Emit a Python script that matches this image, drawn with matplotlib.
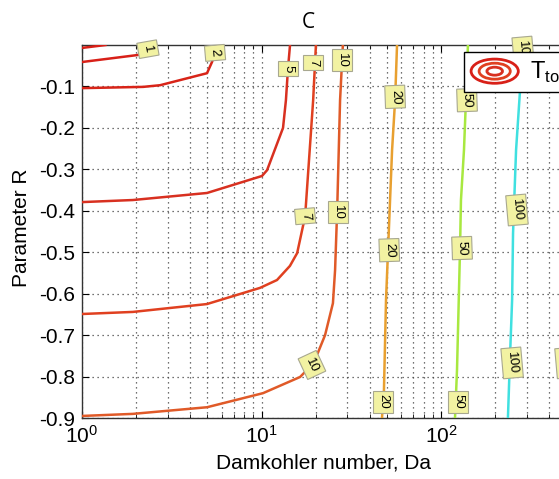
import matplotlib
matplotlib.use("Agg")
import matplotlib.pyplot as plt
from matplotlib.legend_handler import HandlerBase
from matplotlib.patches import Ellipse
from matplotlib.ticker import LogLocator, NullFormatter

plt.rcParams['font.family'] = ['Liberation Sans', 'DejaVu Sans']
plt.rcParams['axes.unicode_minus'] = False
plt.rcParams['mathtext.fontset'] = 'custom'
plt.rcParams['mathtext.rm'] = 'Liberation Sans'

# Isolignes de T_tot (Da, R)
levels = [0.5, 1, 2, 5, 7, 10, 20, 50, 100, 200]
colors = ['#d82018', '#d82018', '#d82418', '#d83020', '#e04020', '#e05a28',
          '#e8a030', '#a8e840', '#40e0e0', '#2080f0']

da_05 = [1.0, 1.35]
r_05 = [-0.007, 0.0]
da_1 = [1.0, 2.05, 2.33, 2.55]
r_1 = [-0.041, -0.024, -0.010, 0.0]
da_2 = [1.0, 2.19, 2.72, 4.97, 5.30, 5.51, 5.72]
r_2 = [-0.104, -0.101, -0.097, -0.068, -0.041, -0.019, 0.0]
da_5 = [1.0, 1.92, 4.97, 10.06, 10.74, 13.18, 13.68, 14.05, 14.42]
r_5 = [-0.379, -0.374, -0.357, -0.316, -0.302, -0.200, -0.133, -0.056, 0.0]
da_7 = [1.0, 1.92, 4.97, 9.81, 12.2, 14.4, 15.8, 17.5, 19.4, 20.1]
r_7 = [-0.649, -0.644, -0.625, -0.586, -0.567, -0.533, -0.502, -0.413, -0.133, 0.0]
da_10 = [1.0, 1.92, 4.97, 10.2, 16.4, 19.1, 20.6, 22.6, 25.0, 25.7, 26.4, 27.4, 28.4]
r_10 = [-0.895, -0.890, -0.874, -0.840, -0.801, -0.772, -0.743, -0.700, -0.623,
        -0.543, -0.398, -0.133, 0.0]
da_20 = [46.9, 48.1, 49.4, 50.7, 53.4, 55.5, 56.9]
r_20 = [-0.9, -0.833, -0.615, -0.495, -0.253, -0.133, 0.0]
da_50 = [119.7, 122.8, 127.6, 129.2, 134.3, 137.7, 141.3]
r_50 = [-0.9, -0.784, -0.495, -0.374, -0.253, -0.133, 0.0]
da_100 = [236, 242, 249, 252, 262, 275, 290]
r_100 = [-0.9, -0.760, -0.615, -0.454, -0.253, -0.116, 0.0]
da_200 = [480, 490, 500, 510, 535, 565, 590]
r_200 = [-0.9, -0.76, -0.6, -0.45, -0.25, -0.12, 0.0]

contours_da = [da_05, da_1, da_2, da_5, da_7, da_10, da_20, da_50, da_100, da_200]
contours_r = [r_05, r_1, r_2, r_5, r_7, r_10, r_20, r_50, r_100, r_200]

# étiquettes : (niveau, Da, R, angle)
label_lvl = [1, 2, 5, 7, 7, 10, 10, 10, 20, 20, 20, 50, 50, 50, 100, 100, 100, 200]
label_da = [2.33, 5.51, 14.05, 19.4, 17.5, 28.1, 26.6, 19.1, 55.5, 51.5, 47.5,
            139.6, 131, 124.4, 287, 265, 249, 497]
label_r = [-0.010, -0.019, -0.056, -0.043, -0.413, -0.036, -0.403, -0.772,
           -0.125, -0.495, -0.861, -0.133, -0.490, -0.861, -0.017, -0.398, -0.767, -0.767]
label_rot = [-80, -85, -90, -90, -85, -90, -90, -65, -88, -88, -90, -88, -88, -90,
             -85, -85, -85, -85]

xticks = [1, 10, 100, 1000]
xtick_labels = ['$\\mathdefault{10^{0}}$', '$\\mathdefault{10^{1}}$',
                '$\\mathdefault{10^{2}}$', '']
yticks = [-0.9, -0.8, -0.7, -0.6, -0.5, -0.4, -0.3, -0.2, -0.1]


class EllipseHandler(HandlerBase):
    def create_artists(self, legend, orig_handle, xdescent, ydescent,
                       width, height, fontsize, trans):
        cx = 0.5 * width - xdescent
        cy = 0.5 * height - ydescent
        arts = []
        for s, c in zip([1.0, 0.66, 0.33], ['#d82018', '#e04020', '#d83020']):
            e = Ellipse((cx, cy), width * s, height * s, fill=False,
                        edgecolor=c, lw=2, transform=trans)
            arts.append(e)
        return arts


fig = plt.figure(figsize=(5.59, 4.79), dpi=100)
ax = fig.add_axes([0.1467, 0.1273, 0.9633, 0.7787])

for lvl, xs, ys, c in zip(levels, contours_da, contours_r, colors):
    ax.plot(xs, ys, color=c, lw=1.8, zorder=3)

for lvl, x, y, rot in zip(label_lvl, label_da, label_r, label_rot):
    ax.text(x, y, str(lvl), rotation=rot, rotation_mode='anchor',
            ha='center', va='center', fontsize=9.5, zorder=4,
            bbox=dict(boxstyle='square,pad=0.3', facecolor='#f2f2a2',
                      edgecolor='#a8a890', lw=0.8))

ax.set_xscale('log')
ax.set_xlim(1, 1000)
ax.set_ylim(-0.9, 0)
ax.set_xticks(xticks)
ax.set_xticklabels(xtick_labels)
ax.set_yticks(yticks)
ax.set_yticklabels(['%.1f' % v for v in yticks])
ax.xaxis.set_minor_locator(LogLocator(base=10, subs=range(2, 10)))
ax.xaxis.set_minor_formatter(NullFormatter())
ax.tick_params(which='both', direction='in', top=True, right=True, labelsize=15)
ax.tick_params(which='major', length=5, pad=5)
ax.tick_params(which='minor', length=3)
ax.grid(True, which='major', axis='both', ls=(0, (1, 3)), color='#444444', lw=0.9)
ax.grid(True, which='minor', axis='x', ls=(0, (1, 3)), color='#444444', lw=0.9)
ax.set_axisbelow(True)
for sp in ax.spines.values():
    sp.set_linewidth(1.0)
    sp.set_color('#333333')

leg = ax.legend([object()], ['T$_{\\mathrm{tot}}$'],
                handler_map={object: EllipseHandler()},
                loc='upper left', bbox_to_anchor=(464 / 559, 1 - 52 / 479),
                bbox_transform=fig.transFigure, borderaxespad=0,
                fancybox=False, edgecolor='black', framealpha=1,
                fontsize=17, handlelength=2.0, handleheight=1.2,
                borderpad=0.3, handletextpad=0.5)
leg.get_frame().set_linewidth(1.0)
leg.set_zorder(10)

fig.text(308 / 559, 1 - 22 / 479, 'C', family='Open Sans', fontsize=15,
         ha='center', va='center')
fig.text(323 / 559, 1 - 463 / 479, 'Damkohler number, Da', fontsize=15,
         ha='center', va='center')
fig.text(22 / 559, 1 - 228 / 479, 'Parameter R', fontsize=15, rotation=90,
         ha='center', va='center')

fig.savefig('out.png', dpi=100)
